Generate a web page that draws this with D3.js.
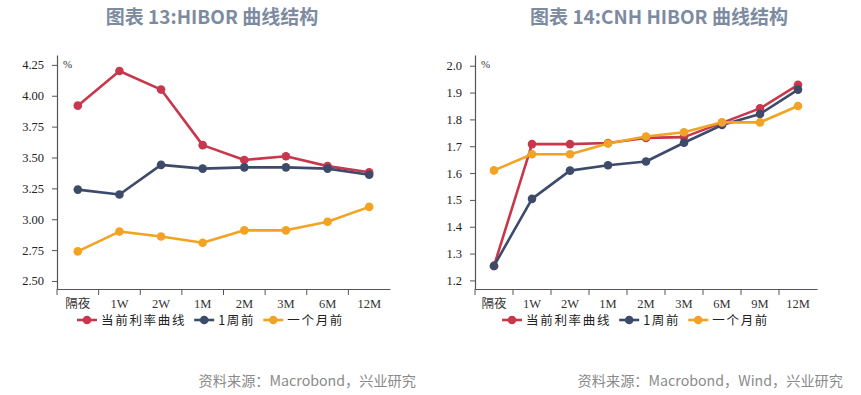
<!DOCTYPE html>
<html><head><meta charset="utf-8">
<script src="https://cdn.jsdelivr.net/npm/d3@7"></script>
<style>
html,body{margin:0;padding:0;background:#fff;}
svg{display:block;}
</style></head>
<body>
<svg id="c" width="861" height="395"></svg>
<script>
// ---- data ----
const hiborCats = ['隔夜','1W','2W','1M','2M','3M','6M','12M'];
const hiborCurrent = [3.92,4.20,4.05,3.60,3.48,3.51,3.43,3.38];
const hiborWeek    = [3.24,3.20,3.44,3.41,3.42,3.42,3.41,3.36];
const hiborMonth   = [2.74,2.90,2.86,2.81,2.91,2.91,2.98,3.10];
const hiborTicks   = [2.50,2.75,3.00,3.25,3.50,3.75,4.00,4.25];

const cnhCats = ['隔夜','1W','2W','1M','2M','3M','6M','9M','12M'];
const cnhCurrent = [1.254,1.708,1.708,1.712,1.731,1.734,1.787,1.841,1.929];
const cnhWeek    = [1.254,1.504,1.609,1.629,1.643,1.713,1.779,1.820,1.911];
const cnhMonth   = [1.610,1.670,1.670,1.710,1.736,1.752,1.789,1.789,1.850];
const cnhTicks   = [1.2,1.3,1.4,1.5,1.6,1.7,1.8,1.9,2.0];

const seriesNames = ['当前利率曲线','1周前','一个月前'];
const colors = ['#c8374b','#3d4a6a','#f2a323'];

const svg = d3.select('#c');

function chart(opt){
  const g = svg.append('g');
  const x = d3.scaleBand().domain(opt.cats).range([opt.x0, opt.x1]).padding(0);
  const y = d3.scaleLinear().domain(opt.ydom).range([289, 55]);

  // y axis
  const ya = g.append('g').attr('transform',`translate(${opt.x0},0)`)
    .call(d3.axisLeft(y).tickValues(opt.ticks).tickFormat(opt.fmt).tickSize(5).tickPadding(8).tickSizeOuter(0));
  ya.select('.domain').attr('stroke','#555').attr('stroke-width',1.2);
  ya.selectAll('.tick line').attr('stroke','#555');
  ya.selectAll('.tick text').attr('font-family','"Liberation Serif",serif').attr('font-size',12.5).attr('fill','#222');

  // x axis
  const xa = g.append('g').attr('transform','translate(0,289)')
    .call(d3.axisBottom(x).tickSize(0).tickPadding(10).tickSizeOuter(0));
  xa.select('.domain').attr('stroke','#555').attr('stroke-width',1.2);
  xa.selectAll('.tick text').attr('font-family','"Liberation Serif","Noto Sans CJK SC",serif').attr('font-size',12.5).attr('fill','#333');
  xa.selectAll('.bt').data(opt.cats).enter().append('line')
    .attr('x1',d=>x(d)).attr('x2',d=>x(d)).attr('y1',0).attr('y2',6)
    .attr('stroke','#555').attr('stroke-width',1);

  // unit
  g.append('text').attr('x',opt.x0+6).attr('y',68).text('%')
    .attr('font-family','"Liberation Serif",serif').attr('font-size',11).attr('fill','#333');

  // series
  const line = d3.line().x((d,i)=>x(opt.cats[i])+x.bandwidth()/2).y(d=>y(d));
  opt.series.forEach((s,k)=>{
    g.append('path').datum(s).attr('d',line).attr('fill','none')
      .attr('stroke',colors[k]).attr('stroke-width',2.6).attr('stroke-linejoin','round');
    g.selectAll(null).data(s).enter().append('circle')
      .attr('cx',(d,i)=>x(opt.cats[i])+x.bandwidth()/2).attr('cy',d=>y(d))
      .attr('r',4.3).attr('fill',colors[k]);
  });

  // legend
  const lg = g.append('g').attr('transform',`translate(${opt.legX},320)`);
  let cx = 0;
  seriesNames.forEach((n,k)=>{
    lg.append('line').attr('x1',cx).attr('x2',cx+20).attr('y1',0).attr('y2',0)
      .attr('stroke',colors[k]).attr('stroke-width',2.6);
    lg.append('circle').attr('cx',cx+10).attr('cy',0).attr('r',4.3).attr('fill',colors[k]);
    const t = lg.append('text').attr('x',cx+24).attr('y',4.5).text(n)
      .attr('font-family','"Noto Sans CJK SC",sans-serif').attr('font-size',12.5)
      .attr('letter-spacing',1.7).attr('fill','#222');
    cx += 24 + t.node().getComputedTextLength() + 8;
  });

  // title
  g.append('text').attr('x',opt.titleX).attr('y',24).attr('text-anchor','middle')
    .text(opt.title).attr('font-family','"Noto Sans CJK SC",sans-serif')
    .attr('font-weight','bold').attr('font-size',19).attr('fill','#7d8ba1');
  // source
  g.append('text').attr('x',opt.srcX).attr('y',386).attr('text-anchor','end')
    .text(opt.src).attr('font-family','"Noto Sans CJK SC",sans-serif')
    .attr('font-size',14.2).attr('fill','#8a8a8a');
}

chart({cats:hiborCats, x0:57, x1:390, ydom:[2.435,4.33], ticks:hiborTicks, fmt:d3.format('.2f'),
  series:[hiborCurrent,hiborWeek,hiborMonth], legX:77, titleX:212,
  title:'图表 13:HIBOR 曲线结构', srcX:416, src:'资料来源：Macrobond，兴业研究'});
chart({cats:cnhCats, x0:475, x1:817, ydom:[1.168,2.04], ticks:cnhTicks, fmt:d3.format('.1f'),
  series:[cnhCurrent,cnhWeek,cnhMonth], legX:502, titleX:659,
  title:'图表 14:CNH HIBOR 曲线结构', srcX:843, src:'资料来源：Macrobond，Wind，兴业研究'});
</script>
</body></html>
